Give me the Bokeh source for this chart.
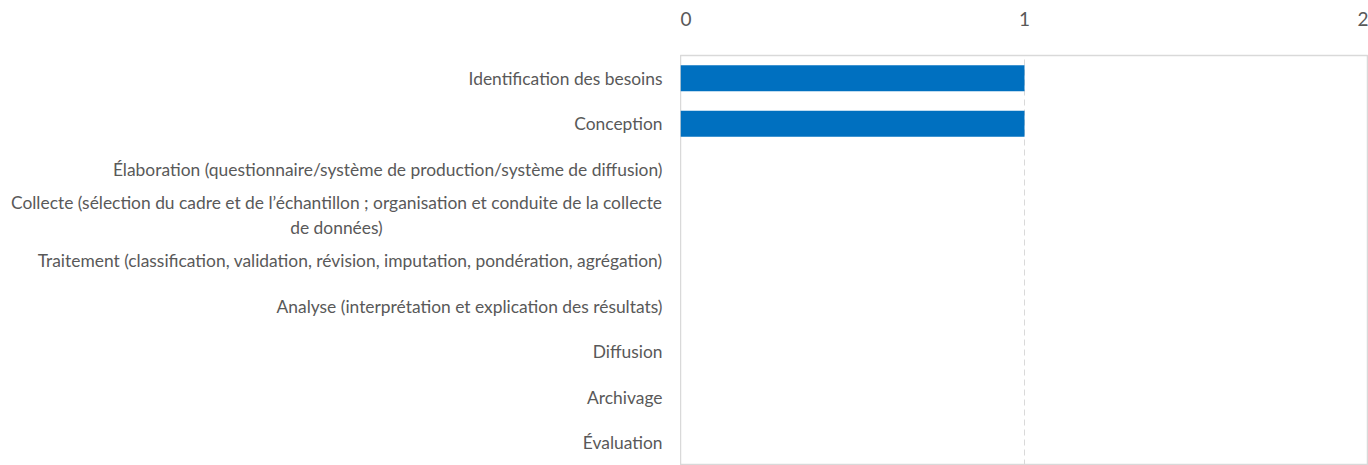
from bokeh.plotting import figure
from bokeh.layouts import row
from bokeh.models import FactorRange, Range1d, FixedTicker
from bokeh.core.properties import value
from bokeh.embed import file_html
from bokeh.resources import INLINE

categories = [
    "Identification des besoins",
    "Conception",
    "Élaboration (questionnaire/système de production/système de diffusion)",
    "Collecte (sélection du cadre et de l’échantillon ; organisation et conduite de la collecte de données)",
    "Traitement (classification, validation, révision, imputation, pondération, agrégation)",
    "Analyse (interprétation et explication des résultats)",
    "Diffusion",
    "Archivage",
    "Évaluation",
]
values = [1, 1, 0, 0, 0, 0, 0, 0, 0]
x_ticks = [0, 1, 2]
display_labels = list(categories)
display_labels[3] = "Collecte (sélection du cadre et de l’échantillon ; organisation et conduite de la collecte\nde données)"

FONT = "Lato"
FS = "17.4px"
TEXT_COLOR = "#595959"
GRID = "#D9D9D9"
LABEL_W = 680
H = 465
TOP = 55

y_range = FactorRange(*list(reversed(categories)), range_padding=0)

# label panel
lab = figure(
    width=LABEL_W, height=H, y_range=y_range, x_range=Range1d(0, LABEL_W),
    x_axis_type=None, y_axis_type=None,
    output_backend="svg", toolbar_location=None,
    min_border_left=0, min_border_right=0, min_border_top=TOP, min_border_bottom=0,
)
lab.outline_line_color = None
lab.xgrid.grid_line_color = None
lab.ygrid.grid_line_color = None
single = [i for i in range(len(categories)) if "\n" not in display_labels[i]]
multi = [i for i in range(len(categories)) if "\n" in display_labels[i]]
lab.text(x=[LABEL_W - 18] * len(single), y=[categories[i] for i in single],
         text=[display_labels[i] for i in single],
         text_align="right", text_baseline="middle",
         text_font=value(FONT), text_font_size=FS, text_color=TEXT_COLOR)
lab.text(x=[LABEL_W / 2 - 4] * len(multi), y=[categories[i] for i in multi],
         text=[display_labels[i] for i in multi],
         text_align="center", text_baseline="middle", text_line_height=1.2,
         text_font=value(FONT), text_font_size=FS, text_color=TEXT_COLOR)

# bar chart
p = figure(
    width=1368 - LABEL_W, height=H,
    y_range=y_range,
    x_range=Range1d(0, 2),
    x_axis_location="above", y_axis_location=None,
    output_backend="svg", toolbar_location=None,
    min_border_left=0, min_border_right=0, min_border_top=TOP, min_border_bottom=0,
)
p.hbar(y=categories, right=values, left=0, height=0.57,
       fill_color="#0070C0", line_color=None)
p.outline_line_color = GRID
p.outline_line_width = 1.5

ax = p.xaxis[0]
ax.ticker = FixedTicker(ticks=x_ticks)
ax.axis_line_color = None
ax.major_tick_line_color = None
ax.minor_tick_line_color = None
ax.major_label_text_font = FONT
ax.major_label_text_font_size = "19px"
ax.major_label_text_color = TEXT_COLOR
ax.major_label_standoff = 24

p.xgrid.grid_line_color = GRID
p.xgrid.grid_line_dash = "6 4"
p.ygrid.grid_line_color = None

layout = row(lab, p, spacing=0)
open("out.html", "w").write(file_html(layout, INLINE))
